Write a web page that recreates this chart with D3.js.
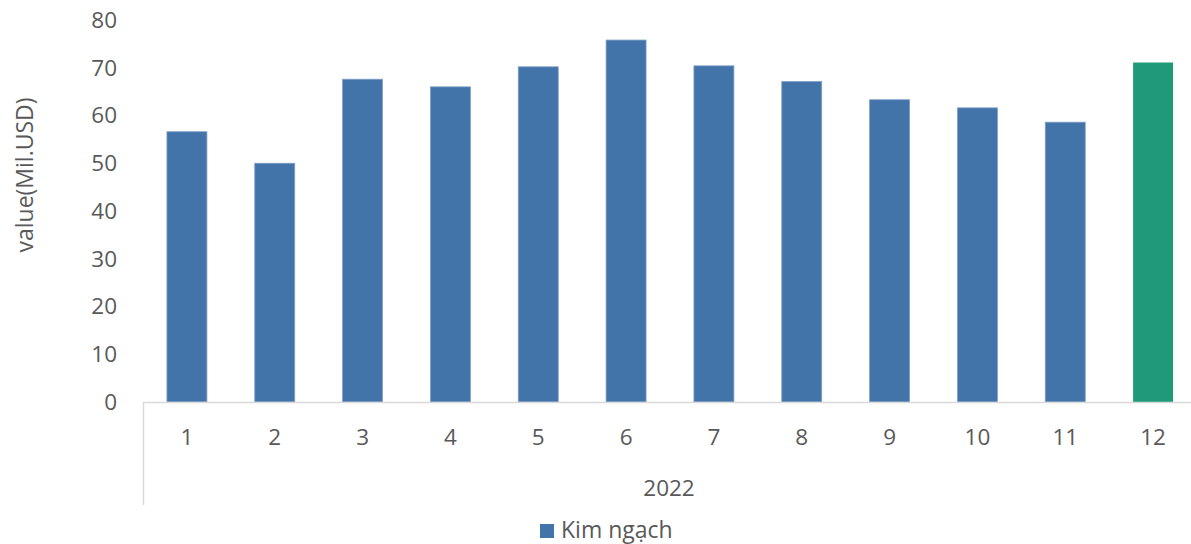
<!DOCTYPE html>
<html>
<head>
<meta charset="utf-8">
<script src="https://cdn.jsdelivr.net/npm/d3@7"></script>
<style>
body{margin:0;background:#fff;}
svg{display:block;font-family:"Open Sans",sans-serif;}
</style>
</head>
<body>
<svg id="chart" width="1191" height="544"></svg>
<script>
const months = ["1","2","3","4","5","6","7","8","9","10","11","12"];
const values = [56.6, 50.0, 67.6, 66.0, 70.2, 75.8, 70.4, 67.1, 63.3, 61.6, 58.6, 71.1];
const yTicks = [0,10,20,30,40,50,60,70,80];
const yearLabel = "2022";
const seriesName = "Kim ngạch";
const yTitle = "value(Mil.USD)";

(function(){
const svg = d3.select("#chart");
const mLeft = 143, mRight = 1197, mTop = 20, mBottom = 402;
const x = d3.scaleBand().domain(months).range([mLeft, mRight]).paddingInner(0.545).paddingOuter(0.2725);
const y = d3.scaleLinear().domain([0, 80]).range([mBottom, mTop]);

const blue = "#4374a9", teal = "#1e9a78", txt = "#595959", axisC = "#d9d9d9";
const fs = 22.5;

svg.append("g").selectAll("rect").data(values).join("rect")
  .attr("x", (d,i) => x(months[i]))
  .attr("y", d => y(d))
  .attr("width", x.bandwidth())
  .attr("height", d => y(0) - y(d))
  .attr("fill", (d,i) => i === 11 ? teal : blue)
  .attr("stroke", (d,i) => i === 11 ? "none" : "#7e9fc6")
  .attr("stroke-width", 0.8);

svg.append("g").selectAll("text").data(yTicks).join("text")
  .attr("x", 117).attr("y", d => y(d)).attr("dy", "0.35em")
  .attr("text-anchor", "end").attr("fill", txt).attr("font-size", fs)
  .text(d => d);

svg.append("line").attr("x1", mLeft).attr("x2", 1191).attr("y1", mBottom+0.5).attr("y2", mBottom+0.5)
  .attr("stroke", axisC).attr("stroke-width", 1.5);
svg.append("line").attr("x1", mLeft+0.5).attr("x2", mLeft+0.5).attr("y1", mBottom).attr("y2", 505)
  .attr("stroke", axisC).attr("stroke-width", 1.5);

svg.append("g").selectAll("text").data(months).join("text")
  .attr("x", d => x(d) + x.bandwidth()/2).attr("y", 437).attr("dy", "0.35em")
  .attr("text-anchor", "middle").attr("fill", txt).attr("font-size", fs)
  .text(d => d);

svg.append("text").attr("x", 669).attr("y", 488).attr("dy","0.35em")
  .attr("text-anchor","middle").attr("fill", txt).attr("font-size", fs).text(yearLabel);

svg.append("text").attr("transform", "translate(25,175) rotate(-90)")
  .attr("text-anchor","middle").attr("dy","0.35em").attr("fill", txt).attr("font-size", 23)
  .text(yTitle);

svg.append("rect").attr("x", 540).attr("y", 524).attr("width", 14).attr("height", 14).attr("fill", blue);
svg.append("text").attr("x", 561).attr("y", 530).attr("dy","0.35em").attr("fill", txt)
  .attr("font-size", 23).text(seriesName);
})();
</script>
</body>
</html>
